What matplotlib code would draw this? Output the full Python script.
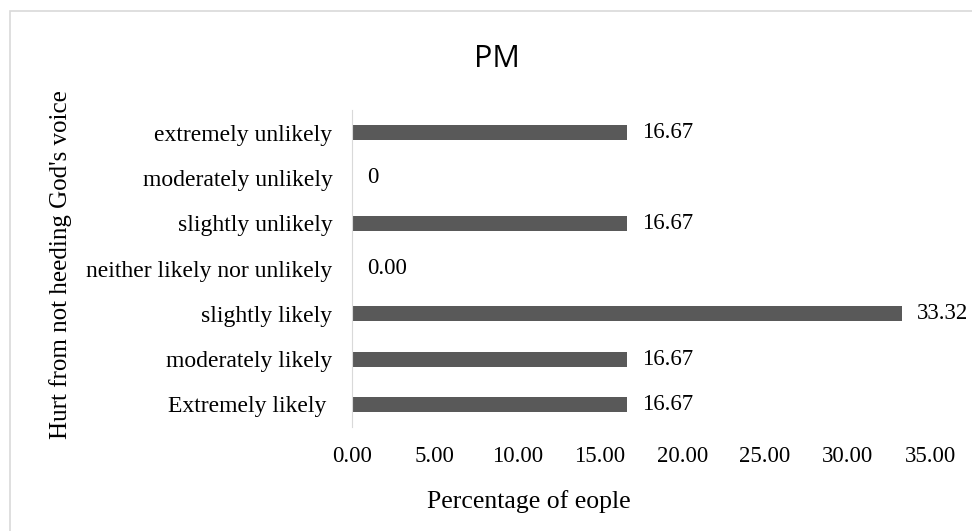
import numpy as np
import matplotlib.pyplot as plt
from matplotlib.patches import Rectangle

### DATA ###

categories = ['Extremely likely ', 'moderately likely', 'slightly likely',
              'neither likely nor unlikely', 'slightly unlikely',
              'moderately unlikely', 'extremely unlikely']
values = [16.67, 16.67, 33.32, 0.00, 16.67, 0, 16.67]
value_labels = ['16.67', '16.67', '33.32', '0.00', '16.67', '0', '16.67']
xticks = [0, 5, 10, 15, 20, 25, 30, 35]

### PLOT ###

serif = 'Liberation Serif'
W, H = 972, 531
fig = plt.figure(figsize=(W / 100, H / 100), dpi=100)

# chart-area border (only left/top edges fall inside the picture)
fig.patches.append(Rectangle((10 / W, -0.05), 1.2, 1 - 11 / H + 0.05, transform=fig.transFigure,
                             fill=False, edgecolor='#d9d9d9', linewidth=1.2))

ax = fig.add_axes([352 / W, 1 - 427 / H, (930 - 352) / W, (427 - 110) / H])
y = np.arange(len(categories))
ax.barh(y, values, height=0.33, color='#595959')

for yi, v, lab in zip(y, values, value_labels):
    ax.text(v + 0.9, yi, lab, va='center', ha='left', fontsize=16.5, family=serif)

ax.set_xlim(0, 35)
ax.set_ylim(-0.5, 6.5)
ax.set_yticks(y)
ax.set_yticklabels(categories, fontsize=17, family=serif)
ax.set_xticks(xticks)
ax.set_xticklabels(['%.2f' % t for t in xticks], fontsize=16.5, family=serif)
ax.tick_params(length=0)
ax.tick_params(axis='x', pad=14)
ax.tick_params(axis='y', pad=14)

for s in ['top', 'right', 'bottom']:
    ax.spines[s].set_visible(False)
ax.spines['left'].set_color('#d9d9d9')

fig.text(497 / W, 1 - 67 / H, 'PM', ha='center', va='baseline', fontsize=22, family='Open Sans')
fig.text(529 / W, 1 - 508 / H, 'Percentage of eople', ha='center', va='baseline',
         fontsize=18.5, family=serif)
fig.text(61 / W, 1 - 265 / H, "Hurt from not heeding God's voice", ha='center', va='center',
         rotation=90, fontsize=18, family=serif)

fig.savefig('out.png', dpi=100)
